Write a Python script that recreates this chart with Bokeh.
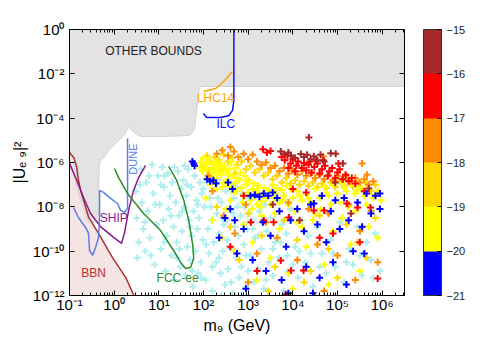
from bokeh.plotting import figure
from bokeh.models import (ColumnDataSource, LinearColorMapper, ColorBar, FixedTicker,
                          LogAxis, Label, Range1d, CustomJSTickFormatter)
from bokeh.embed import file_html
from bokeh.resources import INLINE

# ---------------- data (log10 m9 [GeV], log10 |U|^2) ----------------
other_lm = [-1.0, 6.5, 6.5, 1.94, 1.90, 1.87, 1.80, 1.70, 1.50, 1.00, 0.59, 0.45, 0.36, 0.30,
            0.26, -0.08, -0.33, -0.35, -0.35, -0.46, -0.60, -0.75, -0.84, -0.93, -1.0]
other_lu = [0.0, 0.0, -2.57, -2.57, -2.75, -3.20, -4.50, -4.76, -4.80, -4.83, -4.83, -4.65, -4.45, -4.42,
            -4.69, -5.37, -6.00, -7.26, -8.39, -8.71, -8.57, -7.71, -7.04, -6.36, -6.0]

bbn_lm = [-1.0, -0.90, -0.84, -0.80, -0.75, -0.57, -0.35, -0.04, 0.26, 0.44]
bbn_lu = [-5.55, -5.80, -6.20, -6.80, -7.26, -8.48, -9.20, -10.28, -11.19, -12.0]

ship_lm = [-1.0, -0.865, -0.686, -0.529, -0.305, -0.013, 0.166, 0.233, 0.323, 0.435, 0.547, 0.704]
ship_lu = [-6.04, -6.68, -7.58, -8.30, -8.89, -9.38, -9.65, -9.16, -8.16, -7.26, -6.68, -6.13]

dune_lm = [-0.91, -0.80, -0.64, -0.574, -0.552, -0.484, -0.417, -0.35, -0.327, -0.327, -0.238,
           -0.081, 0.076, 0.143, 0.233, 0.30, 0.30, 0.30]
dune_lu = [-8.03, -8.48, -8.93, -9.20, -9.97, -10.19, -9.83, -9.38, -8.39, -7.26, -7.35,
           -7.62, -7.85, -8.16, -8.25, -8.07, -6.59, -4.92]

fcc_lm = [0.009, 0.099, 0.30, 0.659, 1.04, 1.33, 1.49, 1.60, 1.71, 1.78, 1.76, 1.67, 1.56, 1.40, 1.22]
fcc_lu = [-6.27, -6.68, -7.40, -8.30, -9.07, -9.97, -10.51, -10.78, -10.74, -10.33, -9.74, -8.62, -7.71, -6.81, -6.18]

lhc_lm = [2.0, 2.27, 2.43, 2.57, 2.65]
lhc_lu = [-2.80, -2.66, -2.39, -2.07, -1.89]

ilc_lm = [2.0, 2.07, 2.16, 2.39, 2.57, 2.65, 2.68, 2.68, 2.68]
ilc_lu = [-3.79, -3.97, -3.97, -3.97, -3.88, -3.65, -3.20, -2.44, 0.0]

# excluded / other points (pale cyan)
cyan_pts = [
    (0.48, -7.3), (0.50, -8.5), (0.55, -9.6), (0.52, -10.3), (0.60, -6.3), (0.62, -7.8), (0.65, -9.0),
    (0.70, -10.0), (0.72, -6.9), (0.75, -8.2), (0.80, -9.4), (0.85, -6.1), (0.88, -7.4), (0.90, -10.6),
    (0.95, -8.8), (0.98, -6.6), (1.02, -7.9), (1.05, -9.9), (1.08, -6.2), (1.10, -8.6), (1.12, -7.1),
    (1.15, -10.9), (1.18, -9.3), (1.20, -6.5), (1.22, -8.1), (1.25, -7.5), (1.28, -10.2), (1.30, -6.9),
    (1.33, -8.9), (1.35, -11.3), (1.38, -7.8), (1.40, -9.6), (1.43, -6.4), (1.45, -8.4), (1.48, -10.7),
    (1.50, -7.2), (1.52, -9.1), (1.55, -6.8), (1.57, -8.0), (1.60, -11.1), (1.62, -7.5), (1.64, -9.8),
    (1.66, -6.3), (1.68, -8.6), (1.70, -10.4), (1.72, -7.1), (1.74, -9.3), (1.76, -11.6), (1.78, -8.2),
    (1.80, -6.6), (1.82, -10.0), (1.84, -7.7), (1.86, -9.0), (1.88, -11.0), (1.90, -8.5), (1.92, -6.9),
    (1.94, -10.5), (1.96, -7.4), (1.98, -9.5), (2.02, -8.0), (2.05, -11.3), (2.08, -6.9), (2.10, -9.0),
    (2.12, -10.1), (2.15, -7.6), (2.18, -8.6), (2.20, -11.8), (2.23, -9.6), (2.25, -7.2), (2.28, -10.5),
    (2.30, -8.3), (2.33, -6.8), (2.35, -9.2), (2.38, -11.0), (2.40, -7.8), (2.43, -10.0), (2.45, -8.8),
    (2.48, -11.5), (2.50, -7.3), (2.53, -9.5), (2.55, -10.8), (2.58, -8.1), (2.60, -6.9), (2.63, -9.9),
    (2.65, -11.9), (2.68, -7.6), (2.70, -8.9), (2.73, -10.3), (2.75, -7.1), (2.78, -9.3), (2.80, -11.2),
    (2.83, -8.4), (2.85, -10.7), (2.88, -7.4), (2.90, -9.7), (2.93, -8.0), (2.95, -11.6), (2.98, -9.0),
    (3.02, -7.6), (3.05, -10.2), (3.08, -8.6), (3.12, -11.4), (3.15, -9.4), (3.18, -7.3), (3.22, -10.8),
    (3.25, -8.2), (3.30, -9.9), (3.35, -11.7), (3.38, -7.9), (3.42, -9.1), (3.46, -10.5), (3.50, -8.5),
    (3.55, -11.1), (3.60, -9.6), (3.65, -7.7), (3.70, -10.3), (3.75, -8.8), (3.80, -11.8), (3.85, -9.2),
    (3.90, -10.9), (3.95, -8.1), (4.05, -9.8), (4.12, -11.2), (4.20, -8.6), (4.28, -10.5), (4.35, -9.3),
    (4.45, -11.6), (4.55, -8.9), (4.65, -10.1), (4.75, -11.0), (4.85, -9.5), (4.95, -10.7), (5.05, -8.7),
    (5.15, -11.4), (5.25, -9.9), (5.35, -10.6), (5.45, -8.9), (5.55, -11.1), (5.65, -9.6), (5.75, -10.4),
    (5.85, -9.2), (5.95, -10.9), (1.35, -6.2), (1.58, -6.15), (0.68, -8.7), (1.12, -9.6), (2.2, -10.7),
    (2.62, -11.4), (3.0, -10.9), (3.4, -11.3), (1.05, -7.0), (1.27, -8.4), (1.46, -9.9), (1.63, -7.0),
    (1.87, -7.9), (2.06, -9.7), (2.42, -8.5), (2.76, -8.0), (3.10, -9.0), (1.70, -8.9), (1.52, -8.2),
    (0.92, -7.9), (0.78, -6.6), (2.35, -10.3), (2.95, -10.2), (2.00, -7.2), (2.17, -8.0), (2.32, -7.6),
    (2.52, -8.6), (2.67, -8.3), (2.86, -7.8), (3.03, -8.3), (3.22, -9.3), (3.36, -8.7), (3.55, -9.9),
    (3.72, -9.6), (3.88, -10.2), (4.0, -10.6), (4.15, -10.0), (4.40, -10.1), (4.60, -10.7), (4.90, -10.1),
    (5.20, -10.5), (5.50, -10.2), (5.80, -11.2), (1.40, -10.3), (1.75, -10.9), (1.95, -11.2), (2.40, -12.0),
    (2.85, -12.0), (1.12, -6.6), (0.58, -7.0), (0.82, -10.2),
]

# colour-coded points, grouped by the colour-bar bin they fall in
yellow_pts = [  # -20 .. -19
    (1.95, -6.0), (2.00, -5.8), (2.05, -6.3), (2.10, -5.95), (2.15, -6.5), (2.20, -6.1), (2.25, -6.35),
    (2.30, -6.7), (2.35, -6.2), (2.40, -6.55), (2.45, -6.9), (2.50, -6.4), (2.55, -6.75), (2.60, -7.1),
    (2.65, -6.6), (2.70, -6.95), (2.75, -7.3), (2.80, -6.8), (2.85, -7.15), (2.90, -7.5), (2.95, -7.0),
    (3.00, -7.35), (3.05, -7.7), (3.10, -7.2), (3.15, -7.55), (3.20, -7.9), (3.25, -7.4), (3.30, -7.75),
    (3.40, -7.6), (3.50, -7.9), (3.60, -7.4), (3.70, -7.8), (3.80, -7.5), (3.90, -7.9), (4.00, -7.6),
    (4.10, -7.3), (4.20, -7.7), (4.30, -7.4), (4.40, -7.8), (4.50, -7.2), (4.60, -7.6), (4.70, -7.1),
    (4.80, -7.5), (4.90, -7.0), (5.00, -7.4), (5.10, -6.9), (5.20, -7.3), (5.30, -7.0), (5.40, -7.4),
    (5.50, -7.1), (5.60, -7.5), (5.70, -7.2), (5.80, -7.6), (5.90, -7.3), (5.98, -7.7),
    (2.2, -8.6), (2.4, -9.4), (2.5, -8.1), (2.7, -10.0), (2.9, -8.8), (3.1, -9.6), (3.3, -8.4),
    (3.5, -10.3), (3.7, -9.0), (3.9, -11.0), (4.1, -8.7), (4.3, -9.8), (4.5, -8.3), (4.7, -10.6),
    (4.9, -9.1), (5.1, -8.5), (5.3, -9.7), (5.5, -10.9), (5.7, -8.9), (5.9, -9.4), (4.0, -11.7),
    (3.2, -11.3), (4.8, -11.5), (5.4, -8.2), (2.3, -7.2), (2.6, -7.7), (2.05, -7.6), (2.15, -7.0),
    (3.6, -8.3), (4.2, -8.9), (2.02, -6.1), (2.12, -5.85), (2.28, -5.95), (2.38, -6.05), (2.48, -6.15),
    (2.58, -6.3), (2.33, -6.45), (2.18, -6.6), (2.62, -6.0), (2.72, -6.25), (2.82, -6.45), (2.92, -6.6),
    (3.02, -6.8), (3.12, -6.95), (3.22, -7.05), (3.35, -7.15), (3.45, -7.25), (3.55, -7.0), (3.65, -7.15),
    (3.75, -7.25), (3.85, -7.05), (3.95, -7.2), (1.98, -6.4), (2.08, -6.7), (2.24, -6.85), (2.42, -7.1),
    (2.52, -6.95), (2.68, -7.35), (2.88, -7.8), (3.08, -8.1), (3.28, -8.0), (4.05, -8.2), (4.45, -8.6),
    (4.85, -7.9), (5.25, -8.0), (5.65, -7.9), (5.05, -7.8), (4.62, -8.1), (1.92, -6.25), (2.07, -6.05),
    (2.22, -6.25), (2.32, -6.1), (2.44, -6.3), (2.56, -6.55), (2.76, -6.7), (2.96, -6.85), (3.18, -7.25),
    (3.38, -7.45), (3.58, -7.6), (3.78, -7.7), (4.15, -7.5), (4.35, -7.6), (4.75, -7.35), (5.15, -7.15),
    (5.45, -7.25), (5.85, -7.45),
]
gold_pts = [  # -19 .. -18
    (2.00, -6.2), (2.08, -5.7), (2.18, -6.0), (2.25, -5.75), (2.35, -5.9), (2.45, -5.65), (2.55, -5.95),
    (2.65, -5.8), (2.75, -6.1), (2.85, -5.95), (2.95, -6.3), (3.05, -6.15), (3.15, -6.45), (3.25, -6.3),
    (3.35, -6.6), (3.45, -6.45), (3.55, -6.75), (3.65, -6.6), (3.75, -6.9), (3.85, -6.7), (3.95, -6.95),
    (4.05, -6.8), (4.15, -7.0), (4.25, -6.85), (4.35, -7.05), (4.45, -6.9), (4.55, -7.1), (4.65, -6.95),
    (4.75, -7.15), (4.85, -6.9), (4.95, -7.1), (5.05, -6.85), (5.15, -7.05), (5.25, -6.8), (5.35, -7.1),
    (5.45, -6.9), (5.55, -7.2), (5.65, -6.95), (5.75, -7.3), (5.85, -7.0),
    (2.3, -8.0), (2.6, -8.9), (2.8, -10.4), (3.0, -8.3), (3.3, -9.3), (3.6, -10.7), (3.8, -8.6),
    (4.1, -9.5), (4.4, -10.9), (4.6, -8.4), (4.8, -9.9), (5.0, -11.2), (5.2, -8.8), (5.45, -9.6),
    (5.65, -10.3), (5.85, -8.5), (3.45, -11.8), (4.25, -11.4), (2.12, -6.35), (2.40, -6.3), (2.70, -6.5),
]
orange_pts = [  # -18 .. -17
    (2.30, -5.6), (2.42, -5.45), (2.55, -5.7), (2.68, -5.5), (2.78, -5.75), (2.90, -5.6), (3.00, -5.85),
    (3.10, -5.65), (3.20, -5.95), (3.30, -6.1), (3.40, -6.0), (3.50, -6.25), (3.60, -6.15), (3.70, -6.4),
    (3.80, -6.25), (3.90, -6.5), (4.00, -6.35), (4.10, -6.55), (4.20, -6.4), (4.30, -6.6), (4.40, -6.5),
    (4.50, -6.7), (4.60, -6.55), (4.70, -6.75), (4.80, -6.6), (4.90, -6.8), (5.00, -6.6), (5.10, -6.75),
    (5.20, -6.6), (5.30, -6.85), (5.40, -6.7), (5.50, -6.9), (5.60, -6.75), (5.70, -7.0), (5.80, -6.85),
    (5.55, -6.05), (2.6, -5.3), (4.68, -5.73), (5.66, -6.55),
    (2.2, -7.3), (2.45, -8.4), (2.7, -9.2), (2.95, -7.9), (3.2, -10.1), (3.4, -8.7), (3.65, -9.4),
    (3.9, -7.8), (4.1, -10.4), (4.35, -8.1), (4.55, -9.7), (4.8, -8.3), (5.0, -10.2), (5.25, -7.9),
    (5.5, -9.1), (5.75, -8.2), (5.9, -10.5), (3.0, -11.4), (4.7, -11.8), (5.4, -11.3), (2.1, -6.6),
]
red_pts = [  # -17 .. -16
    (3.33, -5.40), (3.42, -5.55), (3.50, -5.48), (3.75, -5.75), (3.82, -5.90), (3.88, -5.70), (3.95, -6.05),
    (4.00, -5.85), (4.08, -6.15), (4.12, -5.95), (4.20, -6.25), (4.25, -6.02), (4.30, -6.35), (4.35, -6.10),
    (4.42, -6.45), (4.48, -6.20), (4.55, -6.05), (4.60, -6.50), (4.65, -6.30), (4.72, -6.15), (4.78, -6.60),
    (4.82, -6.40), (4.88, -6.25), (4.95, -6.70), (5.00, -6.45), (5.05, -6.30), (5.12, -6.75), (5.18, -6.55),
    (5.25, -6.85), (5.32, -6.70), (5.40, -6.95), (4.38, -5.95), (4.52, -5.92), (4.68, -5.90), (4.05, -6.40),
    (3.90, -6.25), (5.02, -6.05),
    (3.06, -8.70), (3.35, -8.62), (3.57, -8.70), (3.91, -8.48), (4.47, -8.16), (4.70, -8.16), (5.21, -7.85),
    (5.45, -8.03), (5.74, -8.03), (3.73, -10.42), (3.96, -10.87), (4.24, -10.87), (5.90, -11.23),
    (3.84, -11.95), (4.60, -9.40), (2.60, -9.8), (2.9, -7.5), (4.3, -7.35), (5.6, -7.3), (4.9, -9.2),
    (5.5, -9.6), (3.2, -10.9), (4.0, -7.2),
]
darkred_pts = [  # -16 .. -15
    (4.36, -4.87), (3.73, -5.50), (3.80, -5.62), (3.90, -5.55), (3.96, -5.68), (4.18, -5.62), (4.25, -5.75),
    (4.32, -5.65), (4.40, -5.85), (4.47, -5.72), (4.55, -5.90), (4.62, -5.65), (4.85, -5.58), (4.96, -5.60),
    (5.12, -6.04), (4.70, -5.95), (4.05, -5.80), (5.70, -7.17), (4.95, -6.9), (4.15, -8.6), (3.55, -7.9),
    (5.30, -8.3),
]
blue_pts = [  # -21 .. -20
    (1.75, -5.95), (1.80, -6.15), (1.78, -6.05), (2.08, -6.75), (2.15, -6.85), (2.22, -6.8), (2.28, -6.95),
    (2.55, -6.9), (2.65, -7.2), (2.60, -8.1), (2.48, -8.5), (2.70, -8.6), (2.35, -9.4), (2.90, -9.0),
    (2.75, -10.1), (3.05, -7.5), (3.15, -7.45), (3.25, -7.55), (3.35, -7.4), (3.45, -7.5), (3.55, -7.35),
    (3.65, -7.6), (3.33, -8.7), (3.50, -9.3), (3.70, -8.2), (3.85, -9.8), (3.95, -8.6), (3.10, -10.4),
    (3.40, -10.9), (3.75, -11.3), (4.10, -8.1), (4.25, -9.1), (4.40, -7.9), (4.47, -7.85), (4.55, -8.8),
    (4.65, -7.5), (4.75, -9.6), (4.85, -8.2), (4.95, -7.7), (5.05, -9.0), (5.15, -7.6), (5.25, -8.6),
    (5.35, -10.0), (5.45, -7.8), (5.55, -8.9), (5.65, -7.4), (5.75, -8.3), (5.85, -7.5), (5.95, -7.4),
    (5.95, -8.1), (4.30, -10.7), (4.60, -11.2), (4.90, -10.5), (5.20, -11.5), (3.90, -11.9), (4.45, -11.9),
    (5.60, -10.1), (2.95, -11.7),
]
groups = [(gold_pts, -18.5), (yellow_pts, -19.5), (orange_pts, -17.5), (red_pts, -16.5),
          (darkred_pts, -15.5), (blue_pts, -20.5)]

cbar_palette = ["#0000FF", "#FFFF00", "#FFD700", "#FF8C00", "#FF0000", "#A52A2A"]
cbar_ticks = [-21, -20, -19, -18, -17, -16, -15]
x_tick_exps = [-1, 0, 1, 2, 3, 4, 5, 6]
y_tick_exps = [0, -2, -4, -6, -8, -10, -12]

FONT = "Liberation Sans"

def pw(vals):
    return [10.0 ** v for v in vals]

p = figure(frame_width=335, frame_height=266, x_axis_type="log", y_axis_type="log",
           x_range=Range1d(10 ** -1, 10 ** 6.5), y_range=Range1d(1e-12, 1.0),
           output_backend="svg", toolbar_location=None,
           min_border_left=69, min_border_top=29, min_border_bottom=47, min_border_right=86)
p.grid.visible = False
p.outline_line_color = "black"
p.outline_line_width = 1
p.background_fill_color = "white"
p.border_fill_color = "white"

# regions
p.patch(pw(bbn_lm + [-1.0]), pw(bbn_lu + [-12.0]), fill_color="#F5E4E4", line_color=None)
p.patch(pw(other_lm), pw(other_lu), fill_color="#E3E3E3", line_color="#D2D2D2", line_width=1)

# points
cyan_src = ColumnDataSource(dict(m=pw([a for a, b in cyan_pts]), u=pw([b for a, b in cyan_pts])))
p.scatter("m", "u", source=cyan_src, marker="cross", size=7, line_width=2, line_color="#AFEEEE")

mapper = LinearColorMapper(palette=cbar_palette, low=-21, high=-15)
for pts, lev in groups:
    src = ColumnDataSource(dict(m=pw([a for a, b in pts]), u=pw([b for a, b in pts]),
                                c=[lev] * len(pts)))
    p.scatter("m", "u", source=src, marker="cross", size=7, line_width=2,
              line_color={"field": "c", "transform": mapper})

# curves
p.line(pw(bbn_lm), pw(bbn_lu), line_color="#B03030", line_width=1.5)
p.line(pw(ship_lm), pw(ship_lu), line_color="#8B1A8B", line_width=1.5)
p.line(pw(dune_lm), pw(dune_lu), line_color="#5A7FE6", line_width=1.5)
p.line(pw(fcc_lm), pw(fcc_lu), line_color="#2E8B2E", line_width=1.5)
p.line(pw(lhc_lm), pw(lhc_lu), line_color="#FFA500", line_width=1.5)
p.line(pw(ilc_lm), pw(ilc_lu), line_color="#1010F0", line_width=1.5)

def lab(x, y, t, color, angle=0.0, size="12px"):
    p.add_layout(Label(x=x, y=y, text=t, text_color=color, text_font=FONT,
                       text_font_size=size, text_align="center", text_baseline="middle",
                       angle=angle))

lab(10 ** 0.88, 10 ** -0.99, "OTHER BOUNDS", "#222222")
lab(10 ** 2.27, 10 ** -3.07, "LHC14", "#FFA500")
lab(10 ** 2.50, 10 ** -4.28, "ILC", "#1010F0")
lab(10 ** -0.01, 10 ** -8.52, "SHIP", "#8B1A8B")
lab(10 ** 0.42, 10 ** -5.85, "DUNE", "#5A7FE6", angle=1.5708, size="11px")
lab(10 ** -0.46, 10 ** -11.0, "BBN", "#B03030")
lab(10 ** 1.42, 10 ** -11.23, "FCC-ee", "#2E8B2E")

sup_js = """
const e = Math.round(Math.log10(tick));
const s = {'-':'\u207b','0':'\u2070','1':'\u00b9','2':'\u00b2','3':'\u00b3','4':'\u2074',
           '5':'\u2075','6':'\u2076','7':'\u2077','8':'\u2078','9':'\u2079'};
return '10' + String(e).split('').map(c => s[c]).join('');
"""

x_major = [10.0 ** e for e in x_tick_exps]
x_minor = [k * 10.0 ** e for e in range(-1, 7) for k in range(2, 10) if k * 10.0 ** e <= 10 ** 6.5]
y_major = [10.0 ** e for e in y_tick_exps]

def style_axis(ax):
    ax.axis_line_color = "black"
    ax.major_tick_line_color = "black"
    ax.minor_tick_line_color = "black"
    ax.major_tick_in = 5
    ax.major_tick_out = 0
    ax.minor_tick_in = 3
    ax.minor_tick_out = 0
    ax.major_label_text_font = FONT
    ax.major_label_text_font_size = "15px"
    ax.major_label_text_color = "black"
    ax.axis_label_text_font = FONT
    ax.axis_label_text_font_size = "16px"
    ax.axis_label_text_font_style = "normal"
    ax.axis_label_text_color = "black"

xa = p.xaxis[0]
xa.ticker = FixedTicker(ticks=x_major, minor_ticks=x_minor)
xa.formatter = CustomJSTickFormatter(code=sup_js)
xa.axis_label = "m\u2089 (GeV)"
style_axis(xa)
xa.major_label_standoff = 0
xa.axis_label_standoff = 1

ya = p.yaxis[0]
ya.ticker = FixedTicker(ticks=y_major)
ya.formatter = CustomJSTickFormatter(code=sup_js)
ya.axis_label = "|U\u2091 \u2089|\u00b2"
style_axis(ya)
ya.major_label_standoff = 5
ya.axis_label_standoff = 2

top = LogAxis(ticker=FixedTicker(ticks=x_major, minor_ticks=x_minor),
              formatter=CustomJSTickFormatter(code="return ''"))
style_axis(top)
top.major_label_text_font_size = "1px"
p.add_layout(top, "above")

right = LogAxis(ticker=FixedTicker(ticks=y_major), formatter=CustomJSTickFormatter(code="return ''"))
style_axis(right)
right.major_label_text_font_size = "1px"
right.major_label_standoff = 0
p.add_layout(right, "right")

# invisible spacer between the frame and the colour bar
spacer = LogAxis(ticker=FixedTicker(ticks=y_major), formatter=CustomJSTickFormatter(code="return ''"),
                 axis_line_color=None, major_tick_line_color=None, minor_tick_line_color=None,
                 major_tick_in=0, major_tick_out=19, minor_tick_out=0,
                 major_label_text_font_size="1px", major_label_standoff=0)
p.add_layout(spacer, "right")

cb = ColorBar(color_mapper=mapper, ticker=FixedTicker(ticks=cbar_ticks), width=18,
              padding=0, margin=0, label_standoff=5,
              major_label_text_font=FONT, major_label_text_font_size="11px",
              major_label_text_color="#222222",
              bar_line_color="#333333", major_tick_line_color="black", major_tick_in=4,
              background_fill_color=None, border_line_color=None)
p.add_layout(cb, "right")

open("out.html", "w").write(file_html(p, INLINE))
